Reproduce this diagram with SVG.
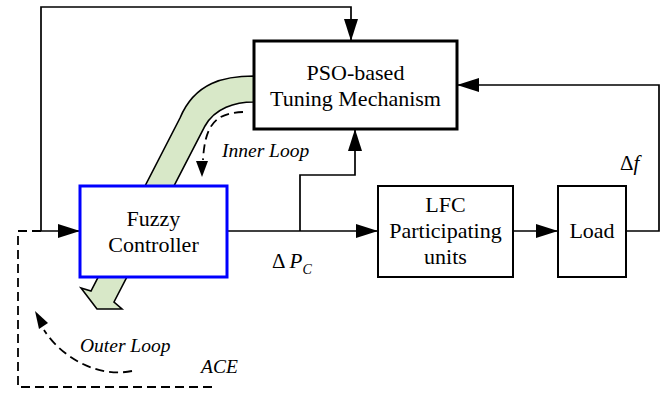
<svg xmlns="http://www.w3.org/2000/svg" width="662" height="395" viewBox="0 0 662 395">
<style>
.box{fill:#fff;stroke:#000;stroke-width:2}
.t{font-family:"Liberation Serif","Times New Roman",serif;font-size:22px;fill:#000;text-anchor:middle}
.it{font-family:"Liberation Serif","Times New Roman",serif;font-size:19.5px;font-style:italic;fill:#000}
.ln{fill:none;stroke:#000;stroke-width:1.7}
.dash{fill:none;stroke:#000;stroke-width:1.8;stroke-dasharray:9 5}
</style>
<defs>
<marker id="ah" markerUnits="userSpaceOnUse" markerWidth="23" markerHeight="14" refX="22" refY="7" orient="auto">
<path d="M0,0 L22,7 L0,14 z" fill="#000"/>
</marker>
<marker id="sah" markerUnits="userSpaceOnUse" markerWidth="16" markerHeight="12" refX="15" refY="6" orient="auto">
<path d="M0,0 L15,6 L0,12 z" fill="#000"/>
</marker>
</defs>
<rect width="662" height="395" fill="#fff"/>
<g id="green-arrow">
<path d="M254,76 C225,76 195,82 180,118 L91,291 L81,288 L97,309 L122,309 L114,302 L205,126 C215,108 235,102 254,102 Z" fill="#d8e8c8" stroke="#000" stroke-width="1.6" stroke-linejoin="miter"/>
</g>
<g id="connectors">
<path class="ln" d="M41,231 L41,7 L351,7 L351,41" marker-end="url(#ah)"/>
<path class="ln" d="M41,231 L80,231" marker-end="url(#ah)"/>
<path class="ln" d="M227,231 L378,231" marker-end="url(#ah)"/>
<path class="ln" d="M300,231 L300,175 L355,175 L355,129" marker-end="url(#ah)"/>
<path class="ln" d="M513,231 L558,231" marker-end="url(#ah)"/>
<path class="ln" d="M626,231 L659,231 L659,85 L457,85" marker-end="url(#ah)"/>
<path class="dash" d="M41,231 L18,231 L18,387 L217,387"/>
<path class="dash" d="M243,112 C215,113 205,125 203,160"/>
<path d="M196,161 L208,161 L202,177 z" fill="#000"/>
<path class="dash" d="M132,371 C98,378 62,358 44,330"/>
<path d="M35,311 L48,323 L39,329 z" fill="#000"/>
</g>
<g id="pso">
<rect x="254" y="41" width="203" height="88" fill="#fff" stroke="#000" stroke-width="3"/>
<text class="t" x="355.5" y="80">PSO-based</text>
<text class="t" x="355.5" y="106">Tuning Mechanism</text>
</g>
<g id="fuzzy">
<rect x="80" y="186" width="147" height="91" fill="#fff" stroke="#0000ff" stroke-width="3"/>
<text class="t" x="153.5" y="226">Fuzzy</text>
<text class="t" x="153.5" y="252">Controller</text>
</g>
<g id="lfc">
<rect class="box" x="378" y="186" width="135" height="91"/>
<text class="t" x="445.5" y="212">LFC</text>
<text class="t" x="445.5" y="238">Participating</text>
<text class="t" x="445.5" y="264">units</text>
</g>
<g id="load">
<rect class="box" x="558" y="186" width="68" height="91"/>
<text class="t" x="592" y="238">Load</text>
</g>
<g id="labels">
<text class="it" x="222" y="157">Inner Loop</text>
<text class="it" x="80" y="352">Outer Loop</text>
<text class="it" x="201" y="373">ACE</text>
<text x="620" y="170" font-family="Liberation Serif, serif" font-size="21">Δ<tspan font-style="italic">f</tspan></text>
<text x="272" y="268" font-family="Liberation Serif, serif" font-size="21">Δ <tspan font-style="italic">P</tspan><tspan font-style="italic" font-size="14" dy="6">C</tspan></text>
</g>
</svg>
